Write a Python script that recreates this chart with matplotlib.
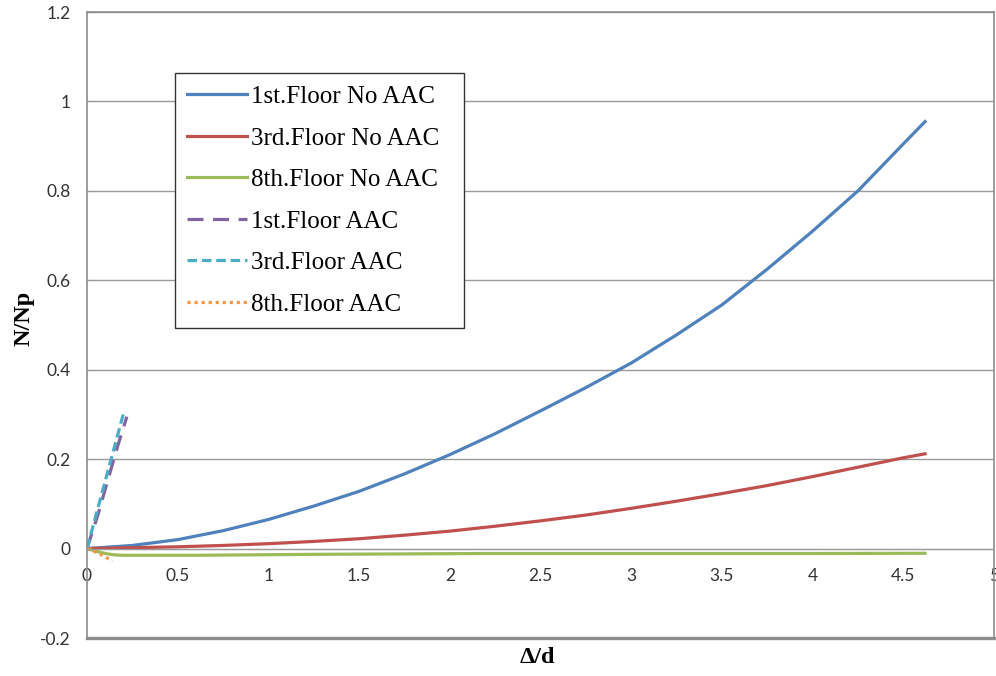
import numpy as np
import matplotlib.pyplot as plt

# drift ratio vs normalised axial force, columns of floors 1, 3 and 8
x_no1 = [0, 0.25, 0.5, 0.75, 1.0, 1.25, 1.5, 1.75, 2.0, 2.25, 2.5, 2.75, 3.0,
         3.25, 3.5, 3.75, 4.0, 4.25, 4.5, 4.62]
y_no1 = [0, 0.007, 0.02, 0.04, 0.065, 0.095, 0.128, 0.167, 0.21, 0.257, 0.308,
         0.36, 0.415, 0.478, 0.545, 0.625, 0.71, 0.8, 0.905, 0.955]

x_no3 = [0, 0.25, 0.5, 0.75, 1.0, 1.25, 1.5, 1.75, 2.0, 2.25, 2.5, 2.75, 3.0,
         3.25, 3.5, 3.75, 4.0, 4.25, 4.5, 4.62]
y_no3 = [0, 0.002, 0.004, 0.007, 0.011, 0.016, 0.022, 0.03, 0.039, 0.05, 0.062,
         0.075, 0.09, 0.106, 0.123, 0.141, 0.161, 0.182, 0.203, 0.212]

x_no8 = [0, 0.05, 0.1, 0.15, 0.2, 0.6, 1.2, 2.2, 3.0, 4.0, 4.62]
y_no8 = [0, -0.006, -0.011, -0.014, -0.015, -0.015, -0.013, -0.011, -0.011, -0.011, -0.0105]

x_aac1 = [0, 0.06, 0.12, 0.17, 0.22]
y_aac1 = [0, 0.075, 0.16, 0.23, 0.295]

x_aac3 = [0, 0.05, 0.1, 0.15, 0.2]
y_aac3 = [0, 0.075, 0.15, 0.225, 0.3]

x_aac8 = [0, 0.05, 0.1, 0.14]
y_aac8 = [0, -0.008, -0.018, -0.028]

labels = ['1st.Floor No AAC', '3rd.Floor No AAC', '8th.Floor No AAC',
          '1st.Floor AAC', '3rd.Floor AAC', '8th.Floor AAC']

fig = plt.figure(figsize=(9.96, 6.76), dpi=100)
ax = fig.add_axes([0.0873, 0.0562, 0.9107, 0.926])

lw = 2.3
ax.plot(x_no1, y_no1, color='#4F81BD', lw=lw, label=labels[0])
ax.plot(x_no3, y_no3, color='#C0504D', lw=lw, label=labels[1])
ax.plot(x_no8, y_no8, color='#9BBB59', lw=lw, label=labels[2])
ax.plot(x_aac1, y_aac1, color='#8064A2', lw=lw, ls=(0, (5, 3)), label=labels[3])
ax.plot(x_aac3, y_aac3, color='#4BACC6', lw=lw, ls=(0, (3, 1.5)), label=labels[4])
ax.plot(x_aac8, y_aac8, color='#F79646', lw=lw, ls=(0, (1, 1.2)), label=labels[5])

ax.set_xlim(0, 5)
ax.set_ylim(-0.2, 1.2)
ax.set_xticks(np.arange(0, 5.01, 0.5))
ax.set_xticklabels(['0', '0.5', '1', '1.5', '2', '2.5', '3', '3.5', '4', '4.5', '5'])
ax.set_yticks(np.arange(-0.2, 1.21, 0.2))
ax.set_yticklabels(['-0.2', '0', '0.2', '0.4', '0.6', '0.8', '1', '1.2'])
ax.grid(axis='y', color='#9a9a9a', lw=1)
ax.set_axisbelow(True)

# x axis runs through zero, the frame stays round the whole area
for s in ['top', 'right', 'left']:
    ax.spines[s].set_color('#8c8c8c')
    ax.spines[s].set_linewidth(1.2)
ax.spines['bottom'].set_position(('data', 0))
ax.spines['bottom'].set_color('#9a9a9a')
ax.axhline(-0.2, color='#8c8c8c', lw=2.4, clip_on=False)

ax.tick_params(axis='x', length=0, pad=14, labelsize=12.5, labelcolor='#333333')
ax.tick_params(axis='y', length=4, direction='in', color='#9a9a9a', pad=12,
               labelsize=12.5, labelcolor='#333333')
for t in ax.get_xticklabels() + ax.get_yticklabels():
    t.set_family('Lato')

ax.set_xlabel('Δ/d', family='Liberation Serif', weight='bold', fontsize=17.5)
ax.xaxis.set_label_coords(0.497, -0.015)
ax.set_ylabel('N/Np', family='Liberation Serif', weight='bold', fontsize=17.5)
ax.yaxis.set_label_coords(-0.058, 0.51)

# trailing spaces widen the box on the right side only
leg = ax.legend([l + '  ' for l in labels], loc='upper left',
                bbox_to_anchor=(0.097, 0.9026), borderaxespad=0,
                prop={'family': 'Liberation Serif', 'size': 18},
                fancybox=False, edgecolor='#333333', framealpha=1,
                handlelength=2.4, handletextpad=0.15, labelspacing=0.76,
                borderpad=0.5)
leg.get_frame().set_linewidth(1.0)

fig.savefig('out.png', dpi=100)
